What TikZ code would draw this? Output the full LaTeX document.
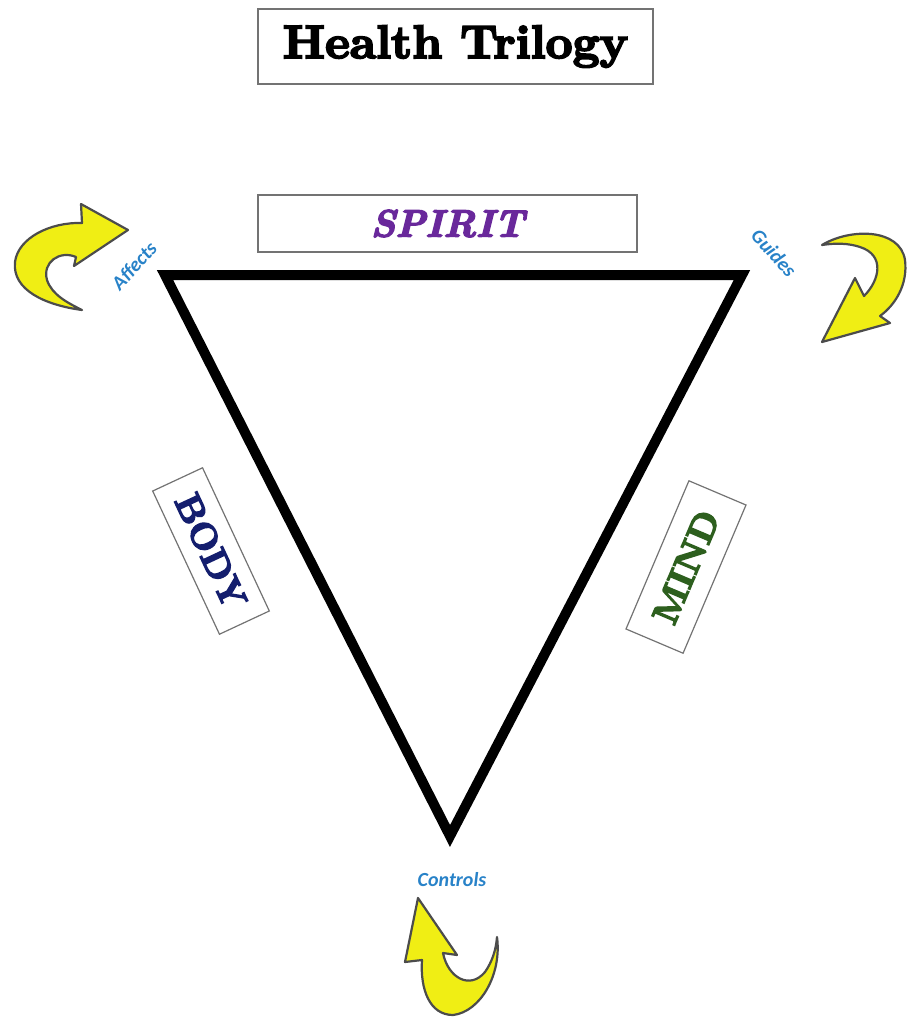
\documentclass[tikz,border=0pt]{standalone}
\usepackage{fontspec}
\newfontfamily\heavyserif{lmroman10}[Extension=.otf, UprightFont=*-bold, ItalicFont=*-bolditalic, UprightFeatures={FakeBold=4}, ItalicFeatures={FakeBold=4}]
\newfontfamily\labelfont{Carlito}
\definecolor{arrowyellow}{RGB}{240,238,20}
\definecolor{labelblue}{RGB}{40,130,200}
\definecolor{spiritpurple}{RGB}{105,40,155}
\definecolor{bodyblue}{RGB}{20,30,110}
\definecolor{mindgreen}{RGB}{45,95,30}
\tikzset{
  framebox/.style={draw=black!55, line width=1.2pt, inner sep=0pt, fill=white},
  smalllabel/.style={text=labelblue, font=\labelfont\bfseries\itshape\fontsize{20}{22}\selectfont, inner sep=0pt},
  curlarrow/.style={fill=arrowyellow, draw=black!70, line width=2.2pt, line join=round},
  trianglestroke/.style={line width=10pt, line join=miter}
}
\begin{document}
\begin{tikzpicture}[x=1pt,y=-1pt]
\useasboundingbox (0,0) rectangle (910,1021);

% title
\node[framebox, minimum width=395pt, minimum height=75pt] (title) at (455.5,46.5)
  {\heavyserif\fontsize{47}{50}\selectfont Health Trilogy};

% triangle
\coordinate (tl) at (165,275);
\coordinate (tr) at (742,275);
\coordinate (bt) at (450,836);
\draw[trianglestroke] (tl) -- (tr) -- (bt) -- cycle;

% boxes
\node[framebox, minimum width=379pt, minimum height=57pt] (spirit) at (447.5,223.5)
  {\color{spiritpurple}\heavyserif\itshape\fontsize{38}{40}\selectfont SPIRIT};
\node[framebox, minimum width=158pt, minimum height=55pt, rotate=-65] (body) at (211,551)
  {\color{bodyblue}\heavyserif\fontsize{36}{38}\selectfont BODY};
\node[framebox, minimum width=161pt, minimum height=62pt, rotate=67] (mind) at (686,567)
  {\color{mindgreen}\heavyserif\fontsize{36}{38}\selectfont MIND};

% small labels
\node[smalllabel, rotate=48] (affects) at (134,266) {Affects};
\node[smalllabel, rotate=-48] (guides) at (774,253) {Guides};
\node[smalllabel] (controls) at (452,880) {Controls};

% curved arrows
\draw[curlarrow] (128,230) -- (74,266) -- (76,257)
  .. controls (60,250) and (42,262) .. (47,280)
  .. controls (52,295) and (68,303) .. (82,310)
  .. controls (45,305) and (12,290) .. (15,262)
  .. controls (18,238) and (50,222) .. (82,223)
  -- (81,204) -- cycle;

\draw[curlarrow] (822,342) -- (855,278) -- (864,296)
  .. controls (880,280) and (885,255) .. (860,247)
  .. controls (848,243) and (835,243) .. (822,245)
  .. controls (850,228) and (900,228) .. (905,260)
  .. controls (908,285) and (895,305) .. (880,316)
  -- (890,323) -- cycle;

\draw[curlarrow] (418,898) -- (457,955) -- (443,953)
  .. controls (448,978) and (470,990) .. (485,972)
  .. controls (492,962) and (496,950) .. (497,937)
  .. controls (502,975) and (480,1012) .. (453,1015)
  .. controls (430,1015) and (420,990) .. (422,960)
  -- (405,962) -- cycle;
\end{tikzpicture}
\end{document}
